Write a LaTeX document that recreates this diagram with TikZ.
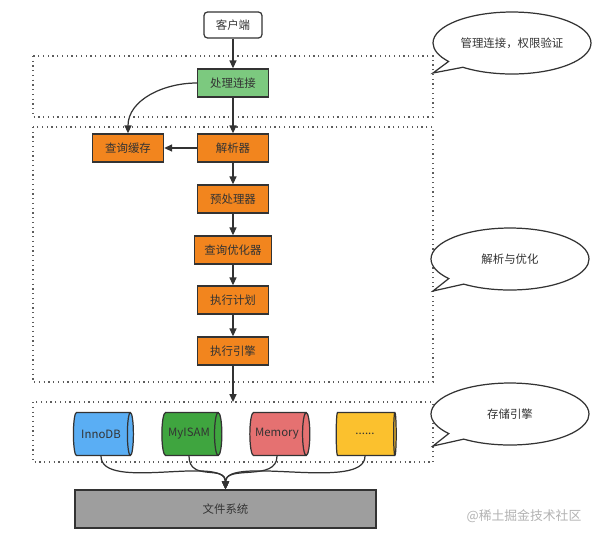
\documentclass[tikz,border=0pt]{standalone}
\usepackage{fontspec}
\newfontfamily\cjk{Noto Sans CJK SC}
\usetikzlibrary{arrows.meta,shapes.geometric,shapes.callouts,positioning}

\definecolor{ink}{HTML}{333333}
\definecolor{stageorange}{HTML}{F2851E}
\definecolor{conngreen}{HTML}{7CC97F}
\definecolor{innoblue}{HTML}{5AAEF4}
\definecolor{myisamgreen}{HTML}{3FA53F}
\definecolor{memred}{HTML}{E57171}
\definecolor{otheryellow}{HTML}{FBC12E}
\definecolor{fsgray}{HTML}{9E9E9E}

\tikzset{
  txt/.style={font=\cjk\fontsize{6.5}{8}\selectfont, text=ink},
  client/.style={txt, draw=ink, line width=0.7pt, fill=white, rounded corners=2pt,
    minimum width=1.16cm, minimum height=0.52cm},
  stage/.style={txt, draw=ink, line width=0.8pt, fill=stageorange,
    minimum width=1.42cm, minimum height=0.56cm, inner xsep=0.2cm},
  engine/.style={txt, cylinder, draw=ink, line width=0.7pt,
    minimum width=0.86cm, minimum height=1.2cm, aspect=0.5, inner sep=1pt},
  bubble/.style={txt, ellipse callout, draw=ink, line width=0.7pt, fill=white,
    minimum width=3.16cm, minimum height=1.24cm, inner sep=0pt},
  zone/.style={draw=ink!80, dotted, line width=0.7pt},
  link/.style={draw=ink, line width=0.7pt, -{Triangle[length=4.5pt,width=4pt]}},
}

\begin{document}
\begin{tikzpicture}[x=0.02cm,y=-0.02cm]
\useasboundingbox (0,0) rectangle (595,539);

% Zones
\draw[zone] (33,56)  rectangle (433,117);
\draw[zone] (33,127) rectangle (433,382);
\draw[zone] (33,402) rectangle (433,462);
\coordinate (enginein) at (233,402);

% Query flow
\node[client] (client) at (233,25) {客户端};
\node[stage, fill=conngreen] (conn) at (233,83) {处理连接};
\node[stage] (parser) at (233,148) {解析器};
\node[stage] (cache)  at (128,148) {查询缓存};
\node[stage] (prep)   at (233,199) {预处理器};
\node[stage] (opt)    at (233,250) {查询优化器};
\node[stage] (plan)   at (233,300) {执行计划};
\node[stage] (exec)   at (233,351) {执行引擎};

% Storage engines
\node[engine, fill=innoblue]    (inno)   at (101,434) {InnoDB};
\node[engine, fill=myisamgreen] (myisam) at (189,434) {MyISAM};
\node[engine, fill=memred]      (memory) at (277,434) {Memory};
\node[engine, fill=otheryellow] (other)  at (365,434) {......};

\node[txt, draw=ink, line width=0.8pt, fill=fsgray, minimum width=6.02cm,
  minimum height=0.76cm] (fs) at (225.5,509) {文件系统};

% Notes
\node[bubble, callout absolute pointer={(433,73)}]  (connnote)   at (512,43)  {管理连接，权限验证};
\node[bubble, callout absolute pointer={(433,291)}] (parsenote)  at (510,259) {解析与优化};
\node[bubble, callout absolute pointer={(433,446)}] (enginenote) at (510,414) {存储引擎};

\node[font=\cjk\fontsize{7.3}{9}\selectfont, text=gray!60] (mark) at (524,516) {@稀土掘金技术社区};

% Connectors
\draw[link] (client) -- (conn);
\draw[link] (conn) -- (parser);
\draw[link] (conn.west) to[out=180,in=90] (cache.north);
\draw[link] (parser) -- (cache);
\draw[link] (parser) -- (prep);
\draw[link] (prep) -- (opt);
\draw[link] (opt) -- (plan);
\draw[link] (plan) -- (exec);
\draw[link] (exec) -- (enginein);

\draw[link] (inno.south)   .. controls +(0,36) and +(0,-35) .. (fs.north);
\draw[link] (myisam.south) .. controls +(0,26) and +(0,-25) .. (fs.north);
\draw[link] (memory.south) .. controls +(0,26) and +(0,-25) .. (fs.north);
\draw[link] (other.south)  .. controls +(0,36) and +(0,-35) .. (fs.north);

\end{tikzpicture}
\end{document}
